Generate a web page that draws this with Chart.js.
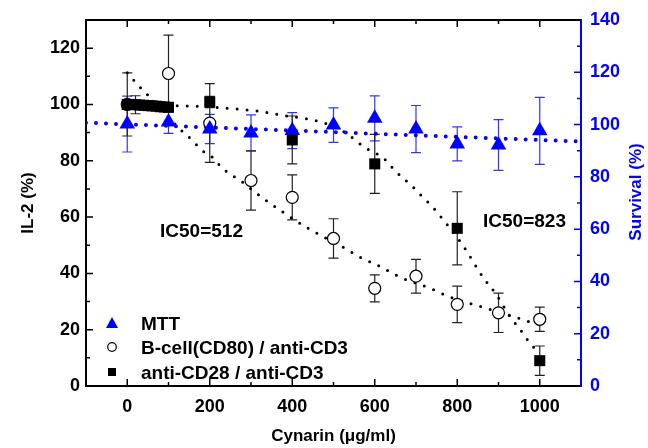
<!DOCTYPE html>
<html>
<head>
<meta charset="utf-8">
<script src="https://cdn.jsdelivr.net/npm/chart.js@4"></script>
<style>
  html, body { margin: 0; padding: 0; background: #fff; }
</style>
</head>
<body>
<canvas id="chart" width="648" height="448"></canvas>
<script>
// MTT survival (right axis, %)
var mttX = [0, 100, 200, 300, 400, 500, 600, 700, 800, 900, 1000];
var mttY = [100.2, 101, 98.3, 96.8, 97.7, 99.8, 102.4, 98.3, 92.6, 92.2, 97.6];
var mttErr = [10.7, 4.4, 5.6, 6.9, 6.9, 6.6, 8.6, 9, 6.5, 9.7, 12.8];
var mttFitX = [-100, 1100];
var mttFitY = [100.7, 93.5];

// B-cell(CD80) / anti-CD3 (left axis, IL-2 %)
var bcellX = [0, 100, 200, 300, 400, 500, 600, 700, 800, 900, 1000];
var bcellY = [100, 111, 93.4, 73, 67, 52.4, 34.7, 39, 29, 26, 23.7];
var bcellErr = [11.2, 13.6, 14, 10.5, 8, 7, 4.8, 6, 6.5, 7, 4.3];
var bcellFitX = [0, 23, 44, 111, 132, 159, 180, 207, 229, 281, 327, 378, 443, 516, 564, 612, 661, 734, 782, 855, 927, 976, 1000];
var bcellFitY = [111.3, 107.4, 104.2, 93.8, 90.6, 87.1, 83.8, 81.2, 77.6, 72.2, 66.9, 61.7, 55.6, 49.9, 45.8, 42.5, 38.7, 34.7, 31.6, 28.3, 25.1, 22.8, 21.9];

// anti-CD28 / anti-CD3 (left axis, IL-2 %)
var cd28X = [0, 10, 20, 30, 40, 50, 60, 70, 80, 90, 100, 200, 400, 600, 800, 1000];
var cd28Y = [100, 100, 99.9, 99.8, 99.7, 99.6, 99.5, 99.4, 99.2, 99.1, 99, 100.9, 87.4, 78.9, 56, 9];
var cd28Err = [0, 0, 3.2, 0, 0, 0, 0, 0, 0, 0, 0, 2, 8.5, 10.5, 13, 5.2];
var cd28FitX = [0, 50, 123, 169, 262, 315, 387, 436, 484, 533, 576, 605, 625, 649, 692, 717, 738, 758, 814, 862, 896, 927, 959, 976, 1000];
var cd28FitY = [100, 99.7, 99.5, 99.4, 98.4, 97.7, 95.9, 94.9, 93.1, 89.6, 84.7, 82.5, 80.4, 76.5, 70.8, 67, 64, 60.5, 49.9, 38.7, 32.2, 24.8, 18.8, 15.2, 11.7];

var legendLabels = ['MTT', 'B-cell(CD80) / anti-CD3', 'anti-CD28 / anti-CD3'];
var ic50Labels = ['IC50=512', 'IC50=823'];
var ic50X = [180, 963];
var ic50Y = [55.3, 58.8];
var rightTitle = 'Survival (%)';

const BLUE = '#0000ff';
const FONT = "'Liberation Sans', Arial, Helvetica, sans-serif";

function pts(xs, ys) {
  return xs.map((x, i) => ({ x: x, y: ys[i] }));
}

const errorBars = {
  id: 'errorBars',
  beforeDatasetsDraw(chart) {
    const ctx = chart.ctx;
    chart.data.datasets.forEach((ds) => {
      if (!ds.errors) return;
      const xs = chart.scales.x;
      const ys = chart.scales[ds.yAxisID];
      ctx.save();
      ctx.strokeStyle = ds.errorColor;
      ctx.lineWidth = 1.2;
      ds.data.forEach((p, j) => {
        const e = ds.errors[j];
        if (!e) return;
        const px = xs.getPixelForValue(p.x);
        const top = ys.getPixelForValue(p.y + e);
        const bot = ys.getPixelForValue(p.y - e);
        ctx.beginPath();
        ctx.moveTo(px, top); ctx.lineTo(px, bot);
        ctx.moveTo(px - 5, top); ctx.lineTo(px + 5, top);
        ctx.moveTo(px - 5, bot); ctx.lineTo(px + 5, bot);
        ctx.stroke();
      });
      ctx.restore();
    });
  }
};

const frame = {
  id: 'frame',
  afterDraw(chart) {
    const ctx = chart.ctx;
    const a = chart.chartArea;
    const x = chart.scales.x, y = chart.scales.y, y2 = chart.scales.y2;
    ctx.save();
    ctx.lineWidth = 2;
    ctx.strokeStyle = '#000';
    ctx.beginPath();
    ctx.moveTo(a.left - 1, a.top); ctx.lineTo(a.right, a.top);
    ctx.stroke();
    ctx.lineWidth = 1.5;
    ctx.beginPath();
    x.ticks.forEach(t => {
      if (t.value <= x.min || t.value >= x.max) return;
      const px = x.getPixelForValue(t.value);
      const len = t.value % 200 === 0 ? 7 : 4;
      ctx.moveTo(px, a.bottom); ctx.lineTo(px, a.bottom - len);
      ctx.moveTo(px, a.top); ctx.lineTo(px, a.top + len);
    });
    y.ticks.forEach(t => {
      if (t.value <= y.min || t.value >= y.max) return;
      const py = y.getPixelForValue(t.value);
      const len = t.value % 20 === 0 ? 7 : 4;
      ctx.moveTo(a.left, py); ctx.lineTo(a.left + len, py);
    });
    ctx.stroke();
    ctx.strokeStyle = BLUE;
    ctx.beginPath();
    y2.ticks.forEach(t => {
      if (t.value <= y2.min || t.value >= y2.max) return;
      const py = y2.getPixelForValue(t.value);
      const len = t.value % 20 === 0 ? 7 : 4;
      ctx.moveTo(a.right, py); ctx.lineTo(a.right - len, py);
    });
    ctx.stroke();

    // right axis title, reading bottom to top like the left one
    ctx.save();
    ctx.translate(636, 192);
    ctx.rotate(-Math.PI / 2);
    ctx.font = 'bold 17px ' + FONT;
    ctx.fillStyle = BLUE;
    ctx.textAlign = 'center';
    ctx.textBaseline = 'middle';
    ctx.fillText(rightTitle, 0, 0);
    ctx.restore();

    // legend
    ctx.fillStyle = BLUE;
    ctx.beginPath();
    ctx.moveTo(112, 317); ctx.lineTo(118, 328); ctx.lineTo(106, 328); ctx.closePath();
    ctx.fill();
    ctx.strokeStyle = '#000';
    ctx.lineWidth = 1.2;
    ctx.fillStyle = '#fff';
    ctx.beginPath();
    ctx.arc(112, 347, 4.3, 0, Math.PI * 2);
    ctx.fill(); ctx.stroke();
    ctx.fillStyle = '#000';
    ctx.fillRect(108, 368, 8, 8);

    ctx.font = 'bold 19px ' + FONT;
    ctx.textAlign = 'left';
    ctx.textBaseline = 'alphabetic';
    ctx.fillText(legendLabels[0], 141, 330);
    ctx.fillText(legendLabels[1], 141, 353.5);
    ctx.fillText(legendLabels[2], 141, 378.5);

    // IC50 notes
    ctx.textAlign = 'center';
    ic50Labels.forEach((s, i) => {
      ctx.fillText(s, x.getPixelForValue(ic50X[i]), y.getPixelForValue(ic50Y[i]) + 7);
    });
    ctx.restore();
  }
};

const tickFont = { family: FONT, size: 18, weight: 'bold' };
const titleFont = { family: FONT, size: 17, weight: 'bold' };

new Chart(document.getElementById('chart'), {
  type: 'scatter',
  data: {
    datasets: [
      {
        label: 'MTT',
        data: pts(mttX, mttY),
        errors: mttErr,
        errorColor: 'rgba(0,0,255,0.8)',
        yAxisID: 'y2',
        pointStyle: 'triangle',
        pointRadius: 9,
        backgroundColor: BLUE,
        borderColor: BLUE,
        borderWidth: 0,
        showLine: false,
        order: 1
      },
      {
        label: 'anti-CD28 / anti-CD3',
        data: pts(cd28X, cd28Y),
        errors: cd28Err,
        errorColor: '#222',
        yAxisID: 'y',
        pointStyle: 'rect',
        pointRadius: 7.8,
        backgroundColor: '#000',
        borderColor: '#000',
        borderWidth: 0,
        showLine: false,
        order: 2
      },
      {
        label: 'B-cell(CD80) / anti-CD3',
        data: pts(bcellX, bcellY),
        errors: bcellErr,
        errorColor: '#222',
        yAxisID: 'y',
        pointStyle: 'circle',
        pointRadius: 6,
        backgroundColor: '#fff',
        borderColor: '#000',
        borderWidth: 1.2,
        showLine: false,
        order: 3
      },
      {
        label: 'MTT fit',
        data: pts(mttFitX, mttFitY),
        yAxisID: 'y2',
        showLine: true,
        pointRadius: 0,
        borderColor: BLUE,
        borderWidth: 4,
        borderDash: [0, 10],
        borderCapStyle: 'round',
        order: 4
      },
      {
        label: 'B-cell fit',
        data: pts(bcellFitX, bcellFitY),
        yAxisID: 'y',
        showLine: true,
        pointRadius: 0,
        borderColor: '#000',
        borderWidth: 3,
        borderDash: [0, 10],
        borderCapStyle: 'round',
        cubicInterpolationMode: 'monotone',
        order: 5
      },
      {
        label: 'CD28 fit',
        data: pts(cd28FitX, cd28FitY),
        yAxisID: 'y',
        showLine: true,
        pointRadius: 0,
        borderColor: '#000',
        borderWidth: 3,
        borderDash: [0, 10],
        borderCapStyle: 'round',
        cubicInterpolationMode: 'monotone',
        order: 6
      }
    ]
  },
  options: {
    responsive: false,
    animation: false,
    layout: { padding: { top: 20, left: 0, right: 0, bottom: 0 } },
    plugins: { legend: { display: false }, tooltip: { enabled: false } },
    scales: {
      x: {
        type: 'linear',
        min: -100,
        max: 1100,
        afterFit: s => { s.height = 62; },
        grid: { display: false, drawTicks: false },
        border: { color: '#000', width: 2 },
        ticks: {
          stepSize: 100,
          autoSkip: false,
          maxRotation: 0,
          padding: 10,
          color: '#000',
          font: tickFont,
          callback: v => (v % 200 === 0 && v >= 0 && v <= 1000) ? String(v) : ''
        },
        title: {
          display: true,
          text: 'Cynarin (\u03bcg/ml)',
          color: '#000',
          font: titleFont,
          padding: { top: 0, bottom: 1 }
        }
      },
      y: {
        position: 'left',
        min: 0,
        max: 130,
        afterFit: s => { s.width = 86; },
        grid: { display: false, drawTicks: false },
        border: { color: '#000', width: 2 },
        ticks: {
          stepSize: 10,
          autoSkip: false,
          padding: 6,
          color: '#000',
          font: tickFont,
          callback: v => (v % 20 === 0) ? String(v) : ''
        },
        title: {
          display: true,
          text: 'IL-2 (%)',
          color: '#000',
          font: titleFont,
          padding: { top: 18, bottom: 0 }
        }
      },
      y2: {
        position: 'right',
        min: 0,
        max: 140,
        afterFit: s => { s.width = 67; },
        grid: { display: false, drawTicks: false },
        border: { color: BLUE, width: 2 },
        ticks: {
          stepSize: 10,
          autoSkip: false,
          padding: 9,
          color: BLUE,
          font: tickFont,
          callback: v => (v % 20 === 0) ? String(v) : ''
        }
      }
    }
  },
  plugins: [errorBars, frame]
});
</script>
</body>
</html>
